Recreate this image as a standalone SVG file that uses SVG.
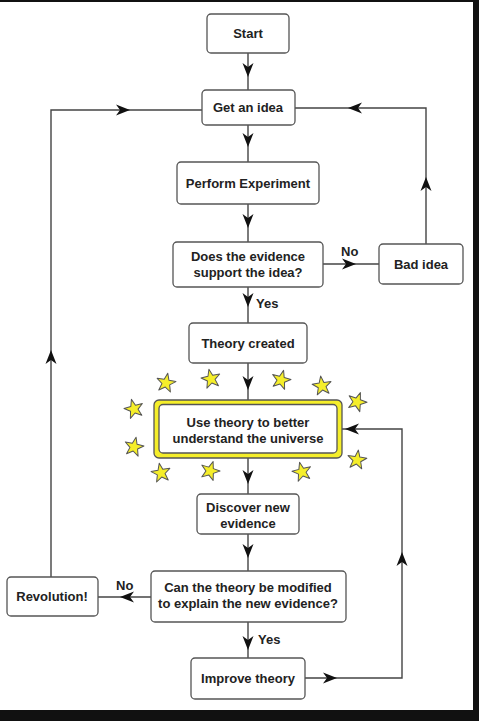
<svg xmlns="http://www.w3.org/2000/svg" xmlns:xlink="http://www.w3.org/1999/xlink" width="479" height="721" viewBox="0 0 479 721">
<style>
.box{fill:#fff;stroke:#555;stroke-width:1.3}
.ln{fill:none;stroke:#444;stroke-width:1.4}
.t{font-family:"Liberation Sans",Arial,sans-serif;font-weight:bold;font-size:13px;fill:#222;text-anchor:middle}
.lbl{font-family:"Liberation Sans",Arial,sans-serif;font-weight:bold;font-size:13px;fill:#222}
.star{fill:#f5ee2a;stroke:#555;stroke-width:1;stroke-linejoin:round}
</style>
<defs>
<path id="ah" d="M0,0 L-14,-5.5 L-10,0 L-14,5.5 Z" fill="#111"/>
<path id="st" d="M0,-10 L2.4,-3.3 L9.5,-3.1 L3.9,1.2 L5.9,8.1 L0,4.1 L-5.9,8.1 L-3.9,1.2 L-9.5,-3.1 L-2.4,-3.3 Z" class="star"/>
</defs>
<rect x="0" y="0" width="479" height="721" fill="#111"/>
<rect x="0" y="2" width="473" height="708" fill="#fff"/>

<g id="connectors">
<path class="ln" d="M248,53 V90"/>
<path class="ln" d="M248,125 V162"/>
<path class="ln" d="M248,204 V242"/>
<path class="ln" d="M323,264 H379"/>
<path class="ln" d="M248,287 V323"/>
<path class="ln" d="M248,363 V400"/>
<path class="ln" d="M248,458 V494"/>
<path class="ln" d="M248,534 V571"/>
<path class="ln" d="M248,622 V658"/>
<path class="ln" d="M151,597 H98"/>
<path class="ln" d="M305,678 H402 V429 H342"/>
<path class="ln" d="M51,577 V110 H202"/>
<path class="ln" d="M426,244 V108 H295"/>
<use xlink:href="#ah" transform="translate(248,77) rotate(90)"/>
<use xlink:href="#ah" transform="translate(248,147) rotate(90)"/>
<use xlink:href="#ah" transform="translate(248,228) rotate(90)"/>
<use xlink:href="#ah" transform="translate(356,264)"/>
<use xlink:href="#ah" transform="translate(248,307) rotate(90)"/>
<use xlink:href="#ah" transform="translate(248,390) rotate(90)"/>
<use xlink:href="#ah" transform="translate(248,484) rotate(90)"/>
<use xlink:href="#ah" transform="translate(248,558) rotate(90)"/>
<use xlink:href="#ah" transform="translate(248,650) rotate(90)"/>
<use xlink:href="#ah" transform="translate(120,597) rotate(180)"/>
<use xlink:href="#ah" transform="translate(337,678)"/>
<use xlink:href="#ah" transform="translate(402,552) rotate(-90)"/>
<use xlink:href="#ah" transform="translate(345,429) rotate(180)"/>
<use xlink:href="#ah" transform="translate(51,350) rotate(-90)"/>
<use xlink:href="#ah" transform="translate(130,110)"/>
<use xlink:href="#ah" transform="translate(426,177) rotate(-90)"/>
<use xlink:href="#ah" transform="translate(348,108) rotate(180)"/>
<text class="lbl" x="341" y="256">No</text>
<text class="lbl" x="256" y="308">Yes</text>
<text class="lbl" x="116" y="590">No</text>
<text class="lbl" x="258" y="644">Yes</text>
</g>

<g id="start"><rect class="box" x="207" y="14" width="82" height="39" rx="4"/><text class="t" x="248" y="38">Start</text></g>
<g id="get-idea"><rect class="box" x="202" y="90" width="93" height="35" rx="4"/><text class="t" x="248" y="112">Get an idea</text></g>
<g id="perform"><rect class="box" x="177" y="162" width="142" height="42" rx="4"/><text class="t" x="248" y="188">Perform Experiment</text></g>
<g id="evidence"><rect class="box" x="173" y="242" width="150" height="45" rx="4"/><text class="t" x="248" y="261">Does the evidence</text><text class="t" x="248" y="277">support the idea?</text></g>
<g id="bad-idea"><rect class="box" x="379" y="244" width="84" height="40" rx="4"/><text class="t" x="421" y="269">Bad idea</text></g>
<g id="theory-created"><rect class="box" x="189" y="323" width="118" height="40" rx="4"/><text class="t" x="248" y="348">Theory created</text></g>
<g id="use-theory">
<rect x="154" y="400" width="188" height="58" rx="5" fill="#f5ee2a" stroke="#555" stroke-width="1.3"/>
<rect class="box" x="159" y="404.5" width="178" height="48.5" rx="4"/>
<text class="t" x="248" y="427">Use theory to better</text><text class="t" x="248" y="443">understand the universe</text>
</g>
<g id="stars">
<use xlink:href="#st" transform="translate(166,383) rotate(10)"/>
<use xlink:href="#st" transform="translate(211,379) rotate(-12)"/>
<use xlink:href="#st" transform="translate(281,380) rotate(15)"/>
<use xlink:href="#st" transform="translate(322,386) rotate(-8)"/>
<use xlink:href="#st" transform="translate(357,402) rotate(20)"/>
<use xlink:href="#st" transform="translate(134,409) rotate(-15)"/>
<use xlink:href="#st" transform="translate(134,447) rotate(12)"/>
<use xlink:href="#st" transform="translate(161,473) rotate(-10)"/>
<use xlink:href="#st" transform="translate(210,471) rotate(18)"/>
<use xlink:href="#st" transform="translate(302,472) rotate(-14)"/>
<use xlink:href="#st" transform="translate(357,460) rotate(8)"/>
</g>
<g id="discover"><rect class="box" x="197" y="494" width="102" height="40" rx="4"/><text class="t" x="248" y="512">Discover new</text><text class="t" x="248" y="528">evidence</text></g>
<g id="modify"><rect class="box" x="151" y="571" width="195" height="51" rx="4"/><text class="t" x="248" y="592">Can the theory be modified</text><text class="t" x="248" y="608">to explain the new evidence?</text></g>
<g id="revolution"><rect class="box" x="7" y="577" width="91" height="39" rx="4"/><text class="t" x="52" y="601">Revolution!</text></g>
<g id="improve"><rect class="box" x="191" y="658" width="114" height="41" rx="4"/><text class="t" x="248" y="683">Improve theory</text></g>
</svg>
